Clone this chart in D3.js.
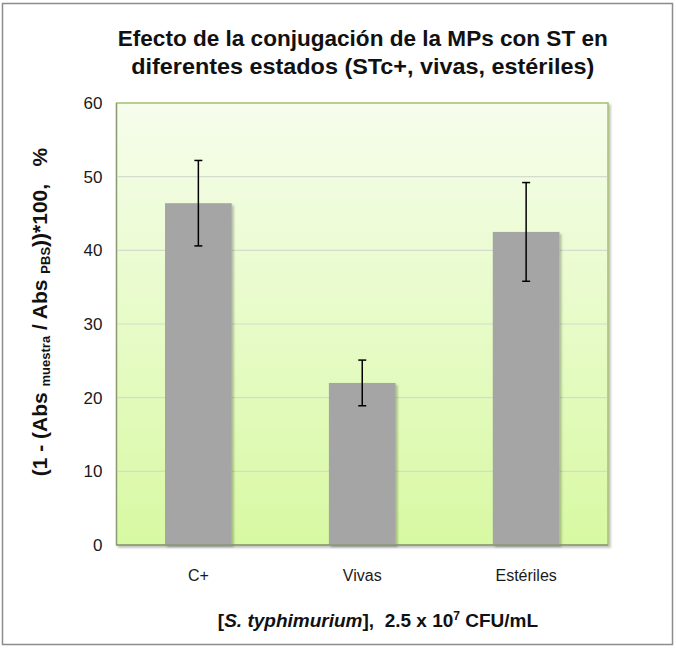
<!DOCTYPE html>
<html><head><meta charset="utf-8">
<script src="https://cdn.jsdelivr.net/npm/d3@7"></script>
<style>body{margin:0;background:#fff}svg{display:block;font-family:"Liberation Sans",Arial,sans-serif}</style>
</head><body><svg id="c" width="676" height="648"></svg>
<script>
const categories = ["C+", "Vivas", "Estériles"];
const values = [46.4, 22.0, 42.5];
const errors = [5.8, 3.1, 6.7];
const yTicks = [0, 10, 20, 30, 40, 50, 60];
const titleLines = ["Efecto de la conjugación de la MPs con ST en", "diferentes estados (STc+, vivas, estériles)"];

const svg = d3.select("#c");
const m = {left: 116.5, right: 608, top: 103, bottom: 545};
const x = d3.scaleBand().domain(categories).range([m.left, m.right]).paddingInner(0.593).paddingOuter(0.296);
const y = d3.scaleLinear().domain([0, 60]).range([m.bottom, m.top]);

const defs = svg.append("defs");
const g = defs.append("linearGradient").attr("id", "bg").attr("x1", 0).attr("y1", 0).attr("x2", 0).attr("y2", 1);
g.append("stop").attr("offset", "0%").attr("stop-color", "#f6fdec");
g.append("stop").attr("offset", "100%").attr("stop-color", "#d8f9a3");
const f = defs.append("filter").attr("id", "sh").attr("x", "-10%").attr("y", "-10%").attr("width", "130%").attr("height", "130%");
f.append("feDropShadow").attr("dx", 2).attr("dy", 2).attr("stdDeviation", 1.2).attr("flood-color", "#000").attr("flood-opacity", 0.25);

// outer frame
svg.append("rect").attr("x", 2.5).attr("y", 3.5).attr("width", 670).attr("height", 641)
  .attr("fill", "#fff").attr("stroke", "#8c8c8c").attr("stroke-width", 1.5);

// plot area
svg.append("rect").attr("x", m.left).attr("y", m.top).attr("width", m.right - m.left).attr("height", m.bottom - m.top)
  .attr("fill", "url(#bg)").attr("stroke", "#a3c070").attr("stroke-width", 1.5).attr("filter", "url(#sh)");

// gridlines
svg.append("g").selectAll("line").data(yTicks.filter(d => d > 0 && d < 60)).join("line")
  .attr("x1", m.left + 1).attr("x2", m.right - 1)
  .attr("y1", d => y(d)).attr("y2", d => y(d))
  .attr("stroke", "#d4dccb").attr("stroke-width", 1.2);

// bars
svg.append("g").selectAll("rect").data(values).join("rect")
  .attr("x", (d, i) => x(categories[i])).attr("width", x.bandwidth())
  .attr("y", d => y(d)).attr("height", d => y(0) - y(d))
  .attr("fill", "#a5a5a5").attr("filter", "url(#sh)");

// axis lines
svg.append("line").attr("x1", m.left).attr("x2", m.right).attr("y1", m.bottom).attr("y2", m.bottom)
  .attr("stroke", "#8b9a73").attr("stroke-width", 1.5);
svg.append("line").attr("x1", m.left).attr("x2", m.left).attr("y1", m.top).attr("y2", m.bottom)
  .attr("stroke", "#8b9a73").attr("stroke-width", 1.2);

// error bars
const eg = svg.append("g").attr("stroke", "#000").attr("stroke-width", 1.5);
values.forEach((v, i) => {
  const cx = x(categories[i]) + x.bandwidth() / 2;
  const hi = y(v + errors[i]), lo = y(v - errors[i]);
  eg.append("line").attr("x1", cx).attr("x2", cx).attr("y1", hi).attr("y2", lo);
  eg.append("line").attr("x1", cx - 4).attr("x2", cx + 4).attr("y1", hi).attr("y2", hi);
  eg.append("line").attr("x1", cx - 4).attr("x2", cx + 4).attr("y1", lo).attr("y2", lo);
});

// y axis labels
const ya = svg.append("g").attr("transform", `translate(${m.left - 14},0)`)
  .call(d3.axisLeft(y).tickValues(yTicks).tickSize(0).tickPadding(0).tickFormat(d3.format("d")));
ya.select(".domain").remove();
ya.selectAll("text").attr("font-size", 17).attr("fill", "#1a1a1a").attr("font-family", "Liberation Sans, Arial");

// x axis labels
const xa = svg.append("g").attr("transform", `translate(0,${m.bottom + 25})`)
  .call(d3.axisBottom(x).tickSize(0).tickPadding(0));
xa.select(".domain").remove();
xa.selectAll("text").attr("font-size", 16).attr("fill", "#1a1a1a").attr("font-family", "Liberation Sans, Arial");

// title
const cxTitle = (m.left + m.right) / 2 + 0.5;
const titleW = [490, 463];
svg.append("g").selectAll("text").data(titleLines).join("text")
  .attr("x", cxTitle).attr("y", (d, i) => 46 + i * 28)
  .attr("text-anchor", "middle").attr("font-weight", "bold").attr("font-size", 22)
  .attr("fill", "#111").attr("textLength", (d, i) => titleW[i]).attr("lengthAdjust", "spacingAndGlyphs")
  .text(d => d);

// x title
const xt = svg.append("text").attr("x", 378).attr("y", 627).attr("text-anchor", "middle")
  .attr("font-weight", "bold").attr("font-size", 19).attr("fill", "#111");
xt.append("tspan").text("[");
xt.append("tspan").attr("font-style", "italic").text("S. typhimurium");
xt.append("tspan").text("],\u00a0\u00a02.5 x 10");
xt.append("tspan").attr("font-size", 12).attr("dy", -7).text("7");
xt.append("tspan").attr("dy", 7).text(" CFU/mL");

// y title
const yt = svg.append("text").attr("transform", `translate(47,312) rotate(-90)`)
  .attr("text-anchor", "middle").attr("font-weight", "bold").attr("font-size", 21).attr("fill", "#111");
yt.append("tspan").text("(1 - (Abs ");
yt.append("tspan").attr("font-size", 13).attr("dy", 3).text("muestra");
yt.append("tspan").attr("dy", -3).text(" / Abs ");
yt.append("tspan").attr("font-size", 13).attr("dy", 3).text("PBS");
yt.append("tspan").attr("dy", -3).text("))*100,\u00a0\u00a0\u00a0%");
</script></body></html>
